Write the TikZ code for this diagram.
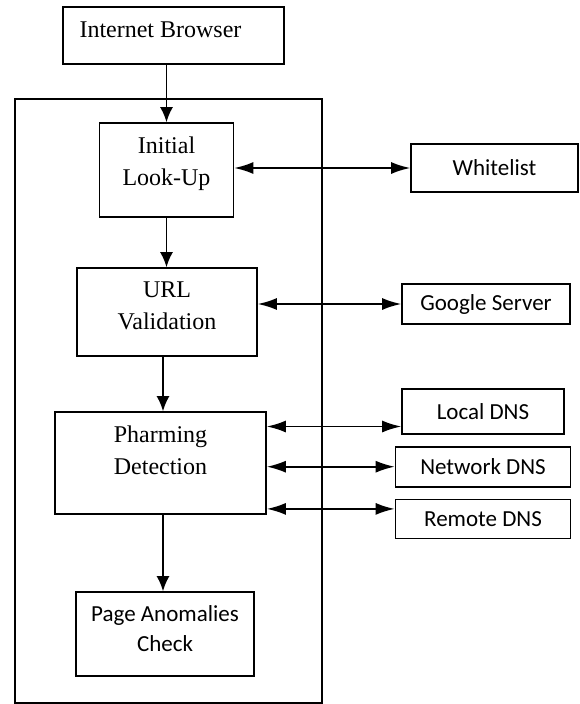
\documentclass[tikz,border=0pt]{standalone}
\usepackage{fontspec}
\setmainfont{Liberation Serif}
\newfontfamily\calibri{Carlito}
\usetikzlibrary{arrows.meta}
\usetikzlibrary{positioning}
\tikzset{
  every picture/.style={line width=1.7pt},
  every label/.style={inner sep=0pt}}

\begin{document}
\begin{tikzpicture}[x=1pt, y=-1pt, node distance=11pt,
    block/.style={draw, inner sep=0pt},
    serif/.style={font=\fontsize{24}{32}\selectfont},
    sans/.style={font=\calibri\fontsize{23}{30}\selectfont},
    caption/.style={anchor=north, align=center, yshift=-13.5pt},
    flow/.style={-{Latex[length=15pt,width=13pt]}},
    link/.style={{Latex[length=19pt,width=12pt]}-{Latex[length=19pt,width=12pt]}}]

    \useasboundingbox (0,0) rectangle (579,704);

    % outer frame
    \draw[line width=2.4pt] (15,99) rectangle (322,703);

    \node[block, minimum width=221pt, minimum height=57pt,
      label={[caption, serif, xshift=-13pt, yshift=-1pt]north:Internet Browser}] (IB) at (173.5,35.5) {};
    \node[block, minimum width=134pt, minimum height=94pt,
      label={[caption, serif]north:Initial\\Look-Up}] (IL) at (166.5,170) {};
    \node[block, minimum width=180pt, minimum height=88pt,
      label={[caption, serif]north:URL\\Validation}] (UV) at (167,312) {};
    \node[block, minimum width=211pt, minimum height=102pt,
      label={[caption, serif]north:Pharming\\Detection}] (PD) at (160.5,463) {};
    \node[block, minimum width=178pt, minimum height=84pt,
      label={[caption, sans]north:Page Anomalies\\Check}] (PA) at (165,634) {};

    \begin{scope}[every node/.style={block, sans}]
      \node[minimum width=167pt, minimum height=48pt] (WL) at (494.5,168) {Whitelist};
      \node[minimum width=168pt, minimum height=40pt] (GS) at (486,304) {Google Server};
      \node[minimum width=162pt, minimum height=45pt] (LD) at (483,411.5) {Local DNS};
      \node[minimum width=175pt, minimum height=40pt] (ND) [below=of LD] {Network DNS};
      \node[minimum width=175pt, minimum height=39pt] (RD) [below=of ND] {Remote DNS};
    \end{scope}

    \coordinate (LDin) at ([yshift=-15pt]LD.west);
    \coordinate (RDin) at ([yshift=10pt]RD.west);

    \path[flow] (IB.south -| IL.north) edge (IL.north);
    \path[flow] (IL) edge (IL.south |- UV.north);
    \path[flow] ([xshift=-4pt]UV.south) edge ([xshift=-4pt]UV.south |- PD.north);
    \path[flow] ([xshift=2.5pt]PD.south) edge ([xshift=2.5pt]PD.south |- PA.north);

    \path[link] (WL.west -| IL.east) edge (WL.west);
    \path[link] (GS.west -| UV.east) edge (GS.west);
    \path[link] (LDin -| PD.east) edge (LDin);
    \path[link] (ND.west -| PD.east) edge (ND.west);
    \path[link] (RDin -| PD.east) edge (RDin);
  \end{tikzpicture}
\end{document}
